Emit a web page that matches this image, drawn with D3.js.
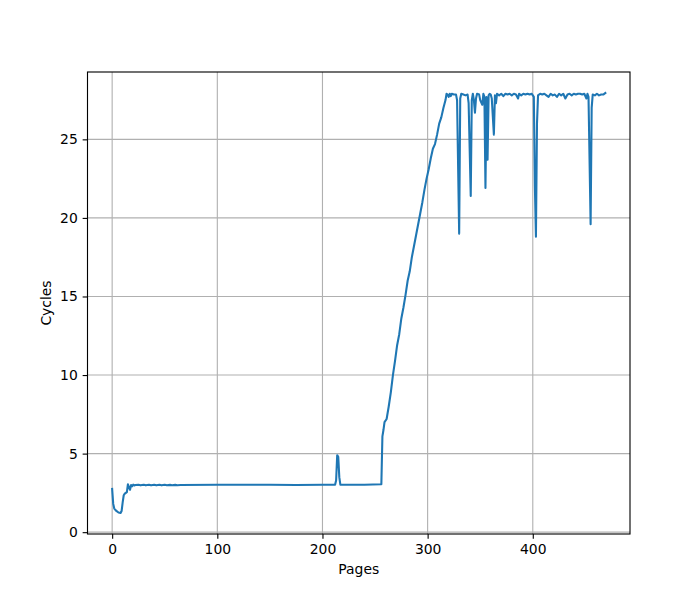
<!DOCTYPE html>
<html><head><meta charset="utf-8">
<script src="https://cdn.jsdelivr.net/npm/d3@7"></script>
<style>body{margin:0;background:#fff;} text{font-family:"DejaVu Sans",sans-serif;}</style>
</head><body>
<svg id="c" width="700" height="600"></svg>
<script>
const pages = [0,1,2,4,6,8,9,10,11,12,13,14,15,16,17,18,19,20,21,22,25,27,30,32,35,37,40,42,45,47,50,52,55,57,60,62,65,100,150,175,200,212,213,214,215,216,217,240,256,257,258,259,261,263,265,267,269,271,273,275,277,279,281,283,285,287,289,291,293,295,297,299,301,303,305,307,309,311,313,315,317,318,319,320,321,322,323,325,327,328,330,331,332,334,336,338,339,341,342,343,344,345,346,347,349,350,352,353,354,355,356,357,358,359,360,361,363,364,365,366,368,370,372,374,376,378,380,382,384,386,387,389,391,393,395,397,399,401,402,403,404,405,407,409,411,413,415,417,419,421,423,425,427,429,431,433,435,437,439,441,443,445,447,449,451,452,453,455,456,457,459,461,463,465,467,469];
const cycles = [2.75,1.8,1.5,1.35,1.25,1.22,1.35,1.9,2.35,2.45,2.5,2.55,3.05,2.85,2.7,3.0,2.92,3.02,2.97,3.0,3.02,2.98,3.02,2.98,3.02,2.98,3.02,2.98,3.02,2.98,3.02,2.99,3.01,2.99,3.01,2.99,3.0,3.02,3.02,3.0,3.02,3.02,3.3,4.9,4.8,3.5,3.02,3.02,3.05,6.1,6.5,7.0,7.2,8.0,8.9,10.0,10.9,11.9,12.6,13.6,14.3,15.1,16.0,16.6,17.5,18.2,18.9,19.6,20.3,21.0,21.8,22.5,23.1,23.8,24.4,24.7,25.3,26.0,26.4,27.0,27.5,27.9,27.85,27.7,27.9,27.75,27.9,27.85,27.85,27.5,19.0,27.6,27.9,27.85,27.8,27.85,27.3,21.4,27.5,27.9,27.5,26.7,27.6,27.9,27.85,27.5,27.2,27.9,27.7,21.9,27.7,23.7,27.8,27.9,27.85,27.6,25.3,27.8,27.3,27.9,27.8,27.9,27.75,27.9,27.85,27.9,27.8,27.9,27.85,27.6,27.9,27.8,27.9,27.85,27.9,27.85,27.9,27.7,22.0,18.8,26.0,27.8,27.9,27.85,27.9,27.8,27.7,27.9,27.8,27.85,27.7,27.9,27.8,27.9,27.6,27.85,27.9,27.8,27.9,27.85,27.9,27.9,27.85,27.9,27.6,27.9,27.7,19.6,27.0,27.85,27.8,27.9,27.8,27.85,27.85,27.95];
const xTicks = [0,100,200,300,400];
const yTicks = [0,5,10,15,20,25];

const svg = d3.select("#c");
const L=87.5,R=630,T=72,B=534;
const xe=d3.extent(pages), ye=d3.extent(cycles);
const px=(xe[1]-xe[0])*0.05, py=(ye[1]-ye[0])*0.05;
const x=d3.scaleLinear().domain([xe[0]-px,xe[1]+px]).range([L,R]);
const y=d3.scaleLinear().domain([ye[0]-py,ye[1]+py]).range([B,T]);

const g=svg.append("g");
g.selectAll(".gx").data(xTicks).join("line").attr("x1",d=>x(d)).attr("x2",d=>x(d)).attr("y1",T).attr("y2",B).attr("stroke","#b0b0b0").attr("stroke-width",0.8*100/72);
g.selectAll(".gy").data(yTicks).join("line").attr("y1",d=>y(d)).attr("y2",d=>y(d)).attr("x1",L).attr("x2",R).attr("stroke","#b0b0b0").attr("stroke-width",0.8*100/72);

const line=d3.line().x((d,i)=>x(pages[i])).y(d=>y(d));
svg.append("path").datum(cycles).attr("d",line).attr("fill","none").attr("stroke","#1f77b4").attr("stroke-width",1.5*100/72).attr("stroke-linejoin","round").attr("stroke-linecap","square");

const xa=svg.append("g").attr("transform",`translate(0,${B})`).call(d3.axisBottom(x).tickValues(xTicks).tickSize(4.86).tickPadding(4.86).tickFormat(d3.format("d")));
const ya=svg.append("g").attr("transform",`translate(${L},0)`).call(d3.axisLeft(y).tickValues(yTicks).tickSize(4.86).tickPadding(4.86).tickFormat(d3.format("d")));
[xa,ya].forEach(a=>{a.select(".domain").remove();a.selectAll("line").attr("stroke","#000").attr("stroke-width",0.8*100/72);a.selectAll("text").attr("font-size","13.9px").attr("font-family","DejaVu Sans").attr("fill","#000");});

svg.append("rect").attr("x",L).attr("y",T).attr("width",R-L).attr("height",B-T).attr("fill","none").attr("stroke","#000").attr("stroke-width",0.8*100/72);

svg.append("text").attr("x",(L+R)/2).attr("y",574).attr("text-anchor","middle").attr("font-size","13.9px").text("Pages");
svg.append("text").attr("transform",`translate(51,${(T+B)/2}) rotate(-90)`).attr("text-anchor","middle").attr("font-size","13.9px").text("Cycles");
</script>
</body></html>
